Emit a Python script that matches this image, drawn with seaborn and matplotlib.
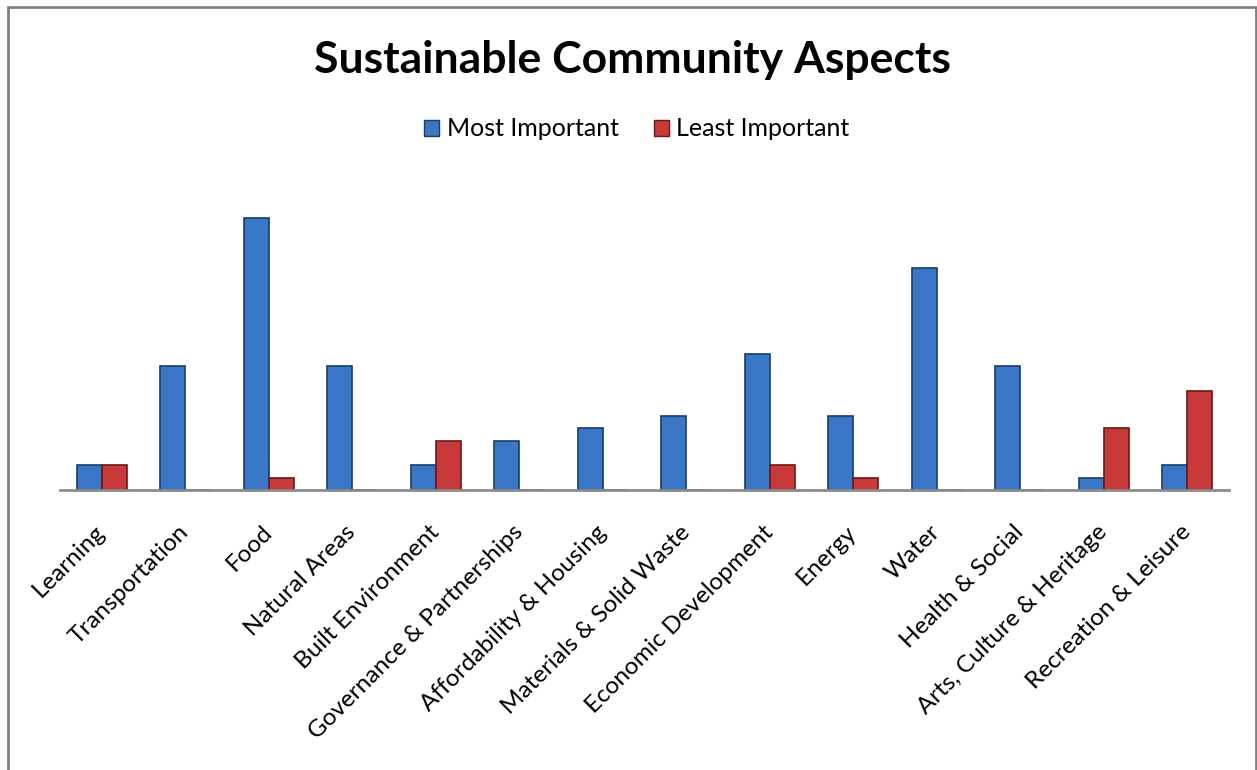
import matplotlib
matplotlib.use('Agg')
import matplotlib.pyplot as plt
from matplotlib.patches import Rectangle
import pandas as pd
import seaborn as sns

categories = ['Learning', 'Transportation', 'Food', 'Natural Areas', 'Built Environment',
              'Governance & Partnerships', 'Affordability & Housing', 'Materials & Solid Waste',
              'Economic Development', 'Energy', 'Water', 'Health & Social',
              'Arts, Culture & Heritage', 'Recreation & Leisure']
most_important = [2, 10, 22, 10, 2, 4, 5, 6, 11, 6, 18, 10, 1, 2]
least_important = [2, 0, 1, 0, 4, 0, 0, 0, 2, 1, 0, 0, 5, 8]
series = ['Most Important', 'Least Important']

df = pd.DataFrame({
    'Aspect': categories * 2,
    'Votes': most_important + least_important,
    'Series': [series[0]] * len(categories) + [series[1]] * len(categories),
})

sns.set_style('white')
plt.rcParams['font.family'] = ['Lato', 'DejaVu Sans']
plt.rcParams['text.color'] = 'black'

blue, red = '#3A77C6', '#C83A3A'
edge = {'Most Important': '#1B3C6A', 'Least Important': '#6A1818'}

W, H = 1257, 770
fig = plt.figure(figsize=(W / 100, H / 100), dpi=100)
ax = fig.add_axes([60 / W, (H - 490) / H, (1229 - 60) / W, 320 / H])

sns.barplot(data=df, x='Aspect', y='Votes', hue='Series', palette=[blue, red],
            saturation=1, width=0.6, gap=0, ax=ax, legend=False)

for cont, name in zip(ax.containers, series):
    for b in cont:
        b.set_edgecolor(edge[name])
        b.set_linewidth(1.2)

ax.set_ylim(0, 25.9)
ax.set_xlim(-0.5, len(categories) - 0.5)
ax.set_xlabel('')
ax.set_ylabel('')
ax.set_yticks([])
for s in ['top', 'left', 'right']:
    ax.spines[s].set_visible(False)
ax.spines['bottom'].set_color('#8C8C8C')
ax.spines['bottom'].set_linewidth(2)
ax.tick_params(axis='x', length=0, pad=28, colors='black')
ax.set_xticks(range(len(categories)))
ax.set_xticklabels(categories, rotation=45, ha='right', va='center',
                   rotation_mode='anchor', fontsize=17.5)

fig.text(632 / W, 1 - 60 / H, 'Sustainable Community Aspects', ha='center', va='center',
         fontsize=32, fontweight='bold', color='black')

# legend
handles = [Rectangle((0, 0), 1, 1, facecolor=c, edgecolor=e, lw=1)
           for c, e in [(blue, edge[series[0]]), (red, edge[series[1]])]]
fig.legend(handles, series, loc='center', bbox_to_anchor=(637 / W, 1 - 129 / H), ncol=2,
           frameon=False, fontsize=18, handlelength=0.6, handleheight=0.6,
           handletextpad=0.3, columnspacing=1.4, labelcolor='black')

fig.patches.append(Rectangle((8 / W, -0.05), (1256 - 8) / W, 1.05 - 7 / H,
                             transform=fig.transFigure, fill=False,
                             edgecolor='#808080', lw=2))

fig.savefig('out.png', dpi=100, facecolor='white')
